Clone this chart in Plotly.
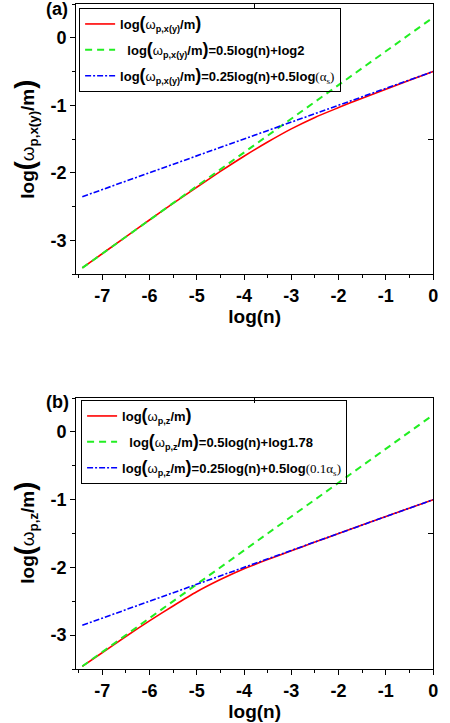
import plotly.graph_objects as go

# ---- data: panel (a), in-plane plasma frequency ----
x_red_a = [-7.42, -7, -6.5, -6, -5.5, -5, -4.5, -4, -3.5, -3, -2.5, -2, -1.5, -1, -0.5, 0]
y_red_a = [-3.41, -3.20, -2.95, -2.70, -2.455, -2.215, -1.98, -1.755, -1.545, -1.35,
           -1.18, -1.035, -0.895, -0.762, -0.63, -0.50]
x_lin_a = [-7.42, 0]
y_green_a = [-3.41, 0.30]
y_blue_a = [-2.355, -0.50]

# ---- data: panel (b), longitudinal plasma frequency ----
x_red_b = [-7.42, -7, -6.5, -6, -5.5, -5, -4.5, -4, -3.5, -3, -2.5, -2, -1, 0]
y_red_b = [-3.46, -3.26, -3.02, -2.79, -2.57, -2.36, -2.18, -2.02, -1.885, -1.755,
           -1.627, -1.50, -1.25, -1.0]
x_lin_b = [-7.42, 0]
y_green_b = [-3.46, 0.25]
y_blue_b = [-2.855, -1.0]

x_tick_vals = [-7, -6, -5, -4, -3, -2, -1, 0]
x_tick_text = ["-7", "-6", "-5", "-4", "-3", "-2", "-1", "0"]
y_tick_vals = [0, -1, -2, -3]
y_tick_text = ["0", "-1", "-2", "-3"]

X_RANGE = [-7.55, 0]
Y_RANGE = [-3.5, 0.5]

FONT = "Liberation Sans, Arial, sans-serif"
SERIF = "Liberation Serif, Times New Roman, serif"
RED, GREEN, BLUE = "#ff0000", "#22ee22", "#0000ff"


def big(ch, size=18):
    return f"<span style='font-size:{size}px'><b>{ch}</b></span>"


def omega_label(sub, size=18):
    return f"<b>log</b>{big('(', size)}ω<sub><b>{sub}</b></sub><b>/m</b>{big(')', size)}"


nb = "\u00a0"
leg_a = [
    omega_label("p,x(y)"),
    nb + nb + omega_label("p,x(y)") + "<b>=0.5log(n)+log2</b>",
    omega_label("p,x(y)") + "<b>=0.25log(n)+0.5log</b>"
    + f"<span style='font-family:{SERIF}'>(α<sub>s</sub>)</span>",
]
leg_b = [
    omega_label("p,z"),
    nb + nb + omega_label("p,z") + "<b>=0.5log(n)+log1.78</b>",
    omega_label("p,z") + "<b>=0.25log(n)+0.5log</b>"
    + f"<span style='font-family:{SERIF}'>(0.1α<sub>s</sub>)</span>",
]

fig = go.Figure()


def add_panel(xr, yr, xl, yg, yb, names, xa, ya, legend):
    fig.add_trace(go.Scatter(x=xr, y=yr, mode="lines", name=names[0],
                             line=dict(color=RED, width=1.6, shape="spline", smoothing=0.6),
                             xaxis=xa, yaxis=ya, legend=legend, legendgroup=legend + "r"))
    fig.add_trace(go.Scatter(x=xl, y=yg, mode="lines", name=names[1],
                             line=dict(color=GREEN, width=2, dash="7px,5px"),
                             xaxis=xa, yaxis=ya, legend=legend, legendgroup=legend + "g"))
    fig.add_trace(go.Scatter(x=xl, y=yb, mode="lines", name=names[2],
                             line=dict(color=BLUE, width=1.6, dash="6px,2px,2px,2px"),
                             xaxis=xa, yaxis=ya, legend=legend, legendgroup=legend + "b"))


add_panel(x_red_a, y_red_a, x_lin_a, y_green_a, y_blue_a, leg_a, "x", "y", "legend")
add_panel(x_red_b, y_red_b, x_lin_b, y_green_b, y_blue_b, leg_b, "x2", "y2", "legend2")

# empty traces so the overlay axes carrying the single top/right ticks are drawn
fig.add_trace(go.Scatter(x=[None], y=[None], xaxis="x3", yaxis="y3", showlegend=False))
fig.add_trace(go.Scatter(x=[None], y=[None], xaxis="x4", yaxis="y4", showlegend=False))

W, H = 450, 723
xdom = [77 / W, 438 / W]
ydom_a = [1 - 274 / H, 1 - 4 / H]
ydom_b = [1 - 669 / H, 1 - 398 / H]

tickfont = dict(family=FONT, size=18, color="black", weight="bold")
common_x = dict(range=X_RANGE, tickvals=x_tick_vals, ticktext=x_tick_text,
                ticks="outside", ticklen=5, tickwidth=1, tickcolor="black",
                minor=dict(dtick=0.5, tick0=0, ticks="outside", ticklen=3, tickcolor="black"),
                showline=True, mirror=True, linecolor="black", linewidth=1,
                showgrid=False, zeroline=False, tickfont=tickfont,
                title=dict(text="<b>log(n)</b>", font=dict(family=FONT, size=19, color="black"),
                           standoff=4))
common_y = dict(range=Y_RANGE, tickvals=y_tick_vals, ticktext=y_tick_text,
                ticks="outside", ticklen=5, tickwidth=1, tickcolor="black",
                minor=dict(dtick=0.5, tick0=0, ticks="outside", ticklen=3, tickcolor="black"),
                showline=True, mirror=True, linecolor="black", linewidth=1,
                showgrid=False, zeroline=False, tickfont=tickfont)
top_ticks = dict(range=X_RANGE, tickvals=[sum(X_RANGE) / 2], ticks="inside", ticklen=5,
                 tickcolor="black", showticklabels=False, showline=False,
                 showgrid=False, zeroline=False, side="top")
right_ticks = dict(range=Y_RANGE, tickvals=[sum(Y_RANGE) / 2], ticks="inside", ticklen=5,
                   tickcolor="black", showticklabels=False, showline=False,
                   showgrid=False, zeroline=False, side="right")

legend_style = dict(bgcolor="rgba(255,255,255,0)", bordercolor="black", borderwidth=1,
                    font=dict(family=FONT, size=13, color="black"),
                    xanchor="left", yanchor="top", tracegroupgap=6, itemwidth=30)

fig.update_layout(
    width=W, height=H, margin=dict(l=0, r=0, t=0, b=0),
    paper_bgcolor="white", plot_bgcolor="white",
    xaxis=dict(domain=xdom, anchor="y", **common_x),
    yaxis=dict(domain=ydom_a, anchor="x", **common_y),
    xaxis2=dict(domain=xdom, anchor="y2", **common_x),
    yaxis2=dict(domain=ydom_b, anchor="x2", **common_y),
    xaxis3=dict(overlaying="x", anchor="y", **top_ticks),
    yaxis3=dict(overlaying="y", anchor="x", **right_ticks),
    xaxis4=dict(overlaying="x2", anchor="y2", **top_ticks),
    yaxis4=dict(overlaying="y2", anchor="x2", **right_ticks),
    legend=dict(x=80 / W, y=1 - 8 / H, **legend_style),
    legend2=dict(x=82 / W, y=1 - 400 / H, **legend_style),
    showlegend=True,
)

# y-axis titles and panel tags
ytitle_a = "<b>log</b>" + big("(", 27) + "<span style='font-size:19px'>ω</span>" \
           "<sub><b>p,x(y)</b></sub><b>/m</b>" + big(")", 27)
ytitle_b = "<b>log</b>" + big("(", 27) + "<span style='font-size:19px'>ω</span>" \
           "<sub><b>p,z</b></sub><b>/m</b>" + big(")", 27)
for txt, yc in [(ytitle_a, 1 - 139 / H), (ytitle_b, 1 - 533 / H)]:
    fig.add_annotation(text=txt, x=25 / W, y=yc, xref="paper", yref="paper",
                       textangle=-90, showarrow=False, xanchor="center", yanchor="middle",
                       font=dict(family=FONT, size=19, color="black"))
for txt, yc in [("<b>(a)</b>", 1 - 9 / H), ("<b>(b)</b>", 1 - 402 / H)]:
    fig.add_annotation(text=txt, x=58 / W, y=yc, xref="paper", yref="paper",
                       showarrow=False, xanchor="center", yanchor="middle",
                       font=dict(family=FONT, size=18, color="black"))

fig.write_html("out.html")
